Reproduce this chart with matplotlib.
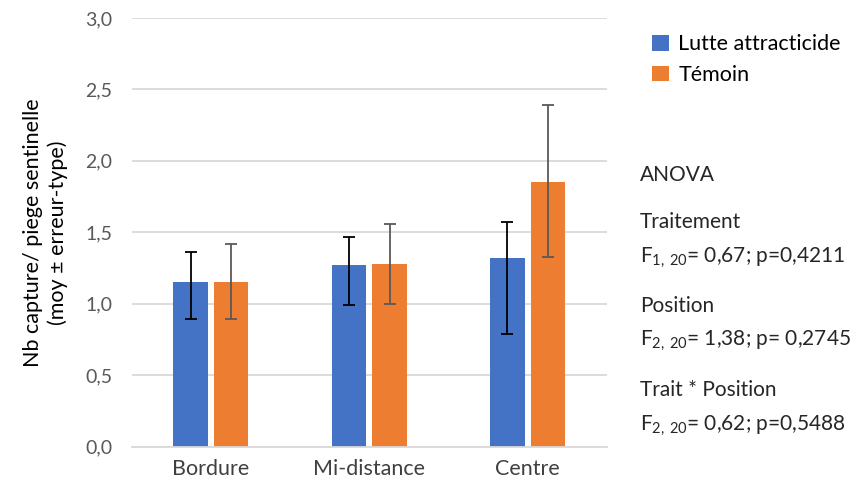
import matplotlib.pyplot as plt
import matplotlib as mpl
import numpy as np

mpl.rcParams['font.family'] = ['Lato', 'DejaVu Sans']
mpl.rcParams['mathtext.default'] = 'regular'

positions = ['Bordure', 'Mi-distance', 'Centre']
series = ['Lutte attracticide', 'Témoin']
lutte_mean = [1.15, 1.27, 1.32]
lutte_err_low = [0.26, 0.28, 0.53]
lutte_err_high = [0.21, 0.20, 0.25]
temoin_mean = [1.15, 1.28, 1.85]
temoin_err_low = [0.26, 0.28, 0.52]
temoin_err_high = [0.27, 0.28, 0.54]
yticks = [0.0, 0.5, 1.0, 1.5, 2.0, 2.5, 3.0]

anova_lines = [
    ('ANOVA', 0.645),
    ('Traitement', 0.55),
    (r'F$_{1,\,20}$= 0,67; p=0,4211', 0.478),
    ('Position', 0.38),
    (r'F$_{2,\,20}$= 1,38; p= 0,2745', 0.308),
    ('Trait * Position', 0.208),
    (r'F$_{2,\,20}$= 0,62; p=0,5488', 0.137),
]

BLUE = '#4472C4'
ORANGE = '#ED7D31'
GRID = '#d9d9d9'
TXT = '#595959'

fig = plt.figure(figsize=(8.59, 4.93), dpi=100)
ax = fig.add_axes([0.1533, 0.0943, 0.5533, 0.8692])

x = np.arange(len(positions))
width = 0.217
off = 0.128
ax.bar(x - off, lutte_mean, width, color=BLUE, label=series[0], zorder=2,
       yerr=[lutte_err_low, lutte_err_high],
       error_kw=dict(ecolor='black', elinewidth=1.3, capsize=4, capthick=1.3, zorder=3))
ax.bar(x + off, temoin_mean, width, color=ORANGE, label=series[1], zorder=2,
       yerr=[temoin_err_low, temoin_err_high],
       error_kw=dict(ecolor='#595959', elinewidth=1.3, capsize=4, capthick=1.3, zorder=3))

ax.set_xlim(-0.5, 2.5)
ax.set_ylim(0, 3.0)
ax.set_yticks(yticks)
ax.set_yticklabels([f'{v:.1f}'.replace('.', ',') for v in yticks], fontsize=14, color=TXT)
ax.set_xticks(x)
ax.set_xticklabels(positions, fontsize=15.5, color='#404040')
ax.tick_params(length=0, pad=14, axis='y')
ax.tick_params(length=0, pad=9, axis='x')
ax.grid(axis='y', color=GRID, linewidth=1.3, zorder=0)
for s in ['top', 'right', 'left']:
    ax.spines[s].set_visible(False)
ax.spines['bottom'].set_color(GRID)
ax.spines['bottom'].set_linewidth(1.3)

ax.set_ylabel('Nb capture/ piege sentinelle\n(moy ± erreur-type)', fontsize=15.5, linespacing=1.25)
ax.yaxis.set_label_coords(-0.135, 0.5)

fig.legend(loc='upper left', bbox_to_anchor=(0.737, 0.97), frameon=False, fontsize=15.5,
           handlelength=0.75, handleheight=0.75, handletextpad=0.45, labelspacing=0.5)

for txt, yy in anova_lines:
    fig.text(0.745, yy, txt, fontsize=15, color='#262626', va='center')

plt.savefig('out.png', dpi=100)
